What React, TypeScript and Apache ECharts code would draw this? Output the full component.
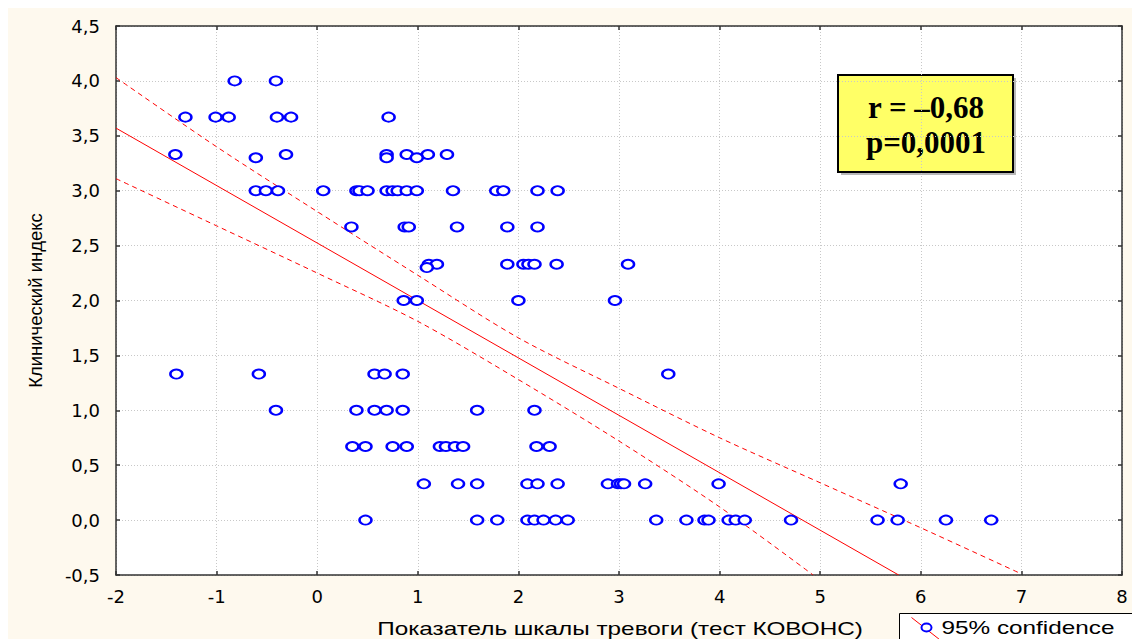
import React, { useEffect, useRef } from "react";
import * as echarts from "echarts";

// Scatter points grouped by clinical index value (y) -> anxiety score values (x)
const xAt400 = [-0.82, -0.41];
const xAt367 = [-1.31, -1.01, -0.88, -0.4, -0.26, 0.71];
const xAt333 = [-1.41, -0.31, 0.69, 0.89, 1.1, 1.29];
const xAt330 = [-0.61, 0.69, 0.99];
const xAt300 = [-0.61, -0.51, -0.39, 0.06, 0.39, 0.42, 0.5, 0.69, 0.75, 0.8, 0.89, 0.99, 1.35, 1.78, 1.85, 2.19, 2.39];
const xAt267 = [0.34, 0.87, 0.91, 1.39, 1.89, 2.19];
const xAt233 = [1.11, 1.19, 1.89, 2.05, 2.1, 2.16, 2.38, 3.09];
const xAt230 = [1.09];
const xAt200 = [0.86, 0.99, 2.0, 2.96];
const xAt133 = [-1.4, -0.58, 0.57, 0.67, 0.85, 3.49];
const xAt100 = [-0.41, 0.39, 0.57, 0.69, 0.85, 1.59, 2.16];
const xAt067 = [0.35, 0.48, 0.75, 0.89, 1.22, 1.28, 1.37, 1.45, 2.18, 2.31];
const xAt033 = [1.06, 1.4, 1.59, 2.09, 2.19, 2.39, 2.89, 2.99, 3.02, 3.05, 3.26, 3.99, 5.8];
const xAt000 = [0.48, 1.59, 1.79, 2.09, 2.16, 2.25, 2.37, 2.49, 3.37, 3.67, 3.85, 3.89, 4.09, 4.16, 4.25, 4.71, 5.57, 5.77, 6.25, 6.7];

const groups: [number, number[]][] = [
  [4.0, xAt400],
  [3.67, xAt367],
  [3.33, xAt333],
  [3.3, xAt330],
  [3.0, xAt300],
  [2.67, xAt267],
  [2.33, xAt233],
  [2.3, xAt230],
  [2.0, xAt200],
  [1.33, xAt133],
  [1.0, xAt100],
  [0.67, xAt067],
  [0.33, xAt033],
  [0.0, xAt000],
];

// Regression line and 95% confidence bands
const fitX = [-2, 5.78];
const fitY = [3.57, -0.5];
const upperX = [-2, -1, 0, 1, 2, 3, 4, 5, 6, 7];
const upperY = [4.03, 3.4, 2.81, 2.23, 1.66, 1.2, 0.75, 0.34, -0.07, -0.49];
const lowerX = [-2, -1, 0, 1, 2, 3, 4, 4.93];
const lowerY = [3.11, 2.68, 2.25, 1.81, 1.28, 0.72, 0.12, -0.5];

const statLines = ["r = \u20130,68", "p=0,0001"];
const xTitle = "Показатель шкалы тревоги (тест КОВОНС)";
const yTitle = "Клинический индекс";
const legendText = "95% confidence";

const fmtY = (v: number) => v.toFixed(1).replace(".", ",");

export default function App() {
  const ref = useRef<HTMLDivElement>(null);
  useEffect(() => {
    document.body.style.margin = "0";
    const chart = echarts.init(ref.current!, undefined, { renderer: "svg" });
    const scatter: number[][] = [];
    groups.forEach(([y, xs]) => xs.forEach((x) => scatter.push([x, y])));
    const zip = (a: number[], b: number[]) => a.map((v, i) => [v, b[i]]);
    const labelFont = "'DejaVu Sans', 'Liberation Sans', Arial, sans-serif";
    const sansFont = "'Liberation Sans', Arial, sans-serif";
    const axisLine = { show: true, onZero: false, lineStyle: { color: "#333", width: 1.5 } };
    const tick = { show: true, inside: true, length: 4, lineStyle: { color: "#333", width: 1.5 } };
    const split = { show: true, lineStyle: { color: "#c8c8c8", type: [1, 2] as any, width: 1 } };
    chart.setOption({
      animation: false,
      backgroundColor: "transparent",
      grid: { left: 108, right: 10, top: 18, bottom: 64, show: true, backgroundColor: "#ffffff", borderWidth: 0 },
      xAxis: [
        {
          type: "value", min: -2, max: 8, interval: 1, position: "bottom",
          axisLine, axisTick: tick, splitLine: split,
          axisLabel: { color: "#000", fontSize: 18, fontFamily: labelFont, margin: 12 },
        },
        {
          type: "value", min: -2, max: 8, interval: 1, position: "top",
          axisLine, axisTick: tick, splitLine: { show: false }, axisLabel: { show: false },
        },
      ],
      yAxis: [
        {
          type: "value", min: -0.5, max: 4.5, interval: 0.5, position: "left",
          axisLine, axisTick: tick, splitLine: split,
          axisLabel: { color: "#000", fontSize: 18, fontFamily: labelFont, margin: 16, formatter: fmtY },
          name: yTitle, nameLocation: "middle", nameGap: 71, nameRotate: 90,
          nameTextStyle: { color: "#000", fontSize: 18.5, fontFamily: sansFont },
        },
        {
          type: "value", min: -0.5, max: 4.5, interval: 0.5, position: "right",
          axisLine, axisTick: tick, splitLine: { show: false }, axisLabel: { show: false },
        },
      ],
      series: [
        {
          type: "line", data: zip(upperX, upperY), smooth: 0.3, symbol: "none", clip: true,
          lineStyle: { color: "#ff0000", width: 1, type: [5, 4] },
        },
        {
          type: "line", data: zip(lowerX, lowerY), smooth: 0.3, symbol: "none", clip: true,
          lineStyle: { color: "#ff0000", width: 1, type: [5, 4] },
        },
        {
          type: "line", data: zip(fitX, fitY), symbol: "none", clip: true,
          lineStyle: { color: "#ff0000", width: 1 },
        },
        {
          type: "scatter", data: scatter, symbol: "circle", symbolSize: [12, 9],
          itemStyle: { color: "#ffffff", borderColor: "#0000ff", borderWidth: 2.2, opacity: 1 },
          z: 5,
        },
      ],
      graphic: [
        {
          type: "text", x: 612, y: 620, scaleX: 1.28, z: 100,
          style: { text: xTitle, fill: "#000", font: "19px 'Liberation Sans', Arial, sans-serif", textAlign: "center", textVerticalAlign: "middle" },
        },
        {
          type: "group", left: 829, top: 66, z: 100,
          children: [
            { type: "rect", shape: { x: 3, y: 3, width: 175, height: 97 }, style: { fill: "#b8b8b8" } },
            { type: "rect", shape: { x: 0, y: 0, width: 175, height: 97 }, style: { fill: "#ffff66", stroke: "#000", lineWidth: 2 } },
            {
              type: "text", x: 88, y: 32,
              style: { text: statLines[0], fill: "#000", font: "bold 31px 'Liberation Serif', 'Times New Roman', serif", textAlign: "center", textVerticalAlign: "middle" },
            },
            {
              type: "text", x: 88, y: 67,
              style: { text: statLines[1], fill: "#000", font: "bold 31px 'Liberation Serif', 'Times New Roman', serif", textAlign: "center", textVerticalAlign: "middle" },
            },
          ],
        },
        {
          type: "group", left: 891, top: 605, z: 100,
          children: [
            { type: "rect", shape: { x: 0, y: 0, width: 260, height: 40 }, style: { fill: "#ffffff", stroke: "#000", lineWidth: 1 } },
            { type: "line", shape: { x1: 12, y1: 4, x2: 40, y2: 26 }, style: { stroke: "#ff0000", lineWidth: 1 } },
            { type: "ellipse", shape: { cx: 27, cy: 14, rx: 5, ry: 4 }, style: { fill: "#ffffff", stroke: "#0000ff", lineWidth: 2 } },
            {
              type: "text", x: 42, y: 14, scaleX: 1.28,
              style: { text: legendText, fill: "#000", font: "19px 'Liberation Sans', Arial, sans-serif", textVerticalAlign: "middle" },
            },
          ],
        },
      ],
    });
    return () => chart.dispose();
  }, []);
  return (
    <div style={{ position: "relative", width: 1132, height: 639, background: "#ffffff", overflow: "hidden" }}>
      <div ref={ref} style={{ position: "absolute", left: 8, top: 8, width: 1124, height: 631, background: "#fef9ee" }} />
    </div>
  );
}
